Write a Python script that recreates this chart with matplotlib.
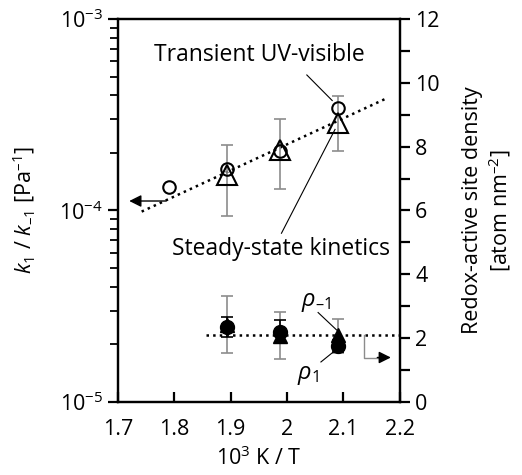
import numpy as np
import matplotlib.pyplot as plt

plt.rcParams['font.family'] = ['Open Sans', 'DejaVu Sans']
plt.rcParams['mathtext.fontset'] = 'custom'
plt.rcParams['mathtext.rm'] = 'Open Sans'
plt.rcParams['mathtext.it'] = 'Open Sans:italic'

# equilibrium constant k1/k-1 (left axis, log)
x_uv = [1.79, 1.893, 1.987, 2.09]
k_uv = [1.32e-4, 1.64e-4, 2.05e-4, 3.42e-4]

x_ss = [1.893, 1.987, 2.09]
k_ss = [1.53e-4, 2.06e-4, 2.85e-4]
k_ss_lo = [9.35e-5, 1.29e-4, 2.05e-4]
k_ss_hi = [2.2e-4, 3.0e-4, 3.94e-4]

x_fit = [1.742, 2.173]
k_fit = [9.86e-5, 3.81e-4]

# redox-active site density (right axis)
x_rho = [1.893, 1.987, 2.09]
rho1 = [2.36, 2.20, 1.755]
rho1_lo = [2.03, 1.86, 1.55]
rho1_hi = [2.67, 2.55, 1.95]
rho_m1 = [2.40, 2.05, 2.10]
rho_m1_lo = [1.53, 1.35, 1.53]
rho_m1_hi = [3.32, 2.83, 2.59]
x_rho_avg = [1.857, 2.2]
rho_avg = [2.1, 2.1]

fig = plt.figure(figsize=(5.22, 4.75), dpi=100)
ax = fig.add_axes([0.226, 0.154, 0.540, 0.806])
ax2 = ax.twinx()

grey = '#8c8c8c'
dash = '\u2013'
fs = 15.5

# left axis data
ax.plot(x_fit, k_fit, ls=':', color='black', lw=1.8)
ax.errorbar(x_ss, k_ss,
            yerr=[np.array(k_ss) - np.array(k_ss_lo), np.array(k_ss_hi) - np.array(k_ss)],
            fmt='none', ecolor=grey, elinewidth=1.2, capsize=4.5, capthick=1.2)
ax.plot(x_ss, k_ss, '^', ms=15, mfc='none', mec='black', mew=1.5)
ax.plot(x_uv, k_uv, 'o', ms=9, mfc='none', mec='black', mew=1.5)

# right axis data
ax2.plot(x_rho_avg, rho_avg, ls=':', color='black', lw=1.8)
ax2.errorbar(x_rho, rho_m1,
             yerr=[np.array(rho_m1) - np.array(rho_m1_lo), np.array(rho_m1_hi) - np.array(rho_m1)],
             fmt='none', ecolor=grey, elinewidth=1.2, capsize=4.5, capthick=1.2)
ax2.errorbar(x_rho, rho1,
             yerr=[np.array(rho1) - np.array(rho1_lo), np.array(rho1_hi) - np.array(rho1)],
             fmt='none', ecolor='black', elinewidth=1.2, capsize=4.5, capthick=1.2)
ax2.plot(x_rho, rho_m1, '^', ms=10, color='black')
ax2.plot(x_rho, rho1, 'o', ms=10, color='black')

# axes setup
ax.set_yscale('log')
ax.set_ylim(1e-5, 1e-3)
ax.set_xlim(1.7, 2.2)
ax.set_xticks([1.7, 1.8, 1.9, 2.0, 2.1, 2.2])
ax.set_xticklabels(['1.7', '1.8', '1.9', '2', '2.1', '2.2'])
ax2.set_ylim(0, 12)
ax2.set_yticks(range(0, 13, 2))
ax2.set_yticks(range(1, 12, 2), minor=True)

for a in (ax, ax2):
    for s in a.spines.values():
        s.set_linewidth(1.6)
ax.tick_params(axis='x', direction='in', length=7, width=1.6, labelsize=fs, pad=12, top=False)
ax.tick_params(axis='y', which='major', direction='out', length=7, width=1.6, labelsize=fs, pad=4)
ax.tick_params(axis='y', which='minor', direction='out', length=6, width=1.3)
ax2.tick_params(axis='y', which='both', direction='out', length=7, width=1.6, labelsize=fs, pad=4)

ax.set_xlabel('10$^{3}$ K / T', fontsize=fs, labelpad=5)
ax.set_ylabel('$\\mathit{k_1}$ / $\\mathit{k_{' + dash + '1}}$ [Pa$^{' + dash + '1}$]',
              fontsize=fs, labelpad=16)
ax2.set_ylabel('Redox-active site density\n[atom nm$^{' + dash + '2}$]', fontsize=fs,
               labelpad=16, linespacing=1.15)

# annotations
ax.annotate('', xy=(1.72, 1.12e-4), xytext=(1.785, 1.12e-4),
            arrowprops=dict(arrowstyle='-|>', color='black', lw=1.0, mutation_scale=18,
                            shrinkA=0, shrinkB=0))
ax2.plot([2.136, 2.136, 2.165], [2.1, 1.39, 1.39], color=grey, lw=1.0)
ax2.annotate('', xy=(2.184, 1.39), xytext=(2.16, 1.39),
             arrowprops=dict(arrowstyle='-|>', color='black', lw=1.0, mutation_scale=18,
                             shrinkA=0, shrinkB=0))

ax.text(1.95, 6.5e-4, 'Transient UV-visible', fontsize=16.5, ha='center', va='center')
ax.plot([2.035, 2.08], [5.1e-4, 3.75e-4], color='black', lw=0.8)
ax.text(1.99, 6.3e-5, 'Steady-state kinetics', fontsize=16.5, ha='center', va='center')
ax.plot([1.99, 2.085], [7.6e-5, 2.65e-4], color='black', lw=0.8)

ax2.text(2.052, 3.14, '$\\rho_{' + dash + '1}$', fontsize=17, ha='center', va='center')
ax2.plot([2.055, 2.088], [2.8, 2.25], color='black', lw=0.8)
ax2.text(2.037, 0.85, '$\\rho_1$', fontsize=17, ha='center', va='center')
ax2.plot([2.06, 2.088], [1.25, 1.65], color='black', lw=0.8)

fig.savefig('out.png', dpi=100)
